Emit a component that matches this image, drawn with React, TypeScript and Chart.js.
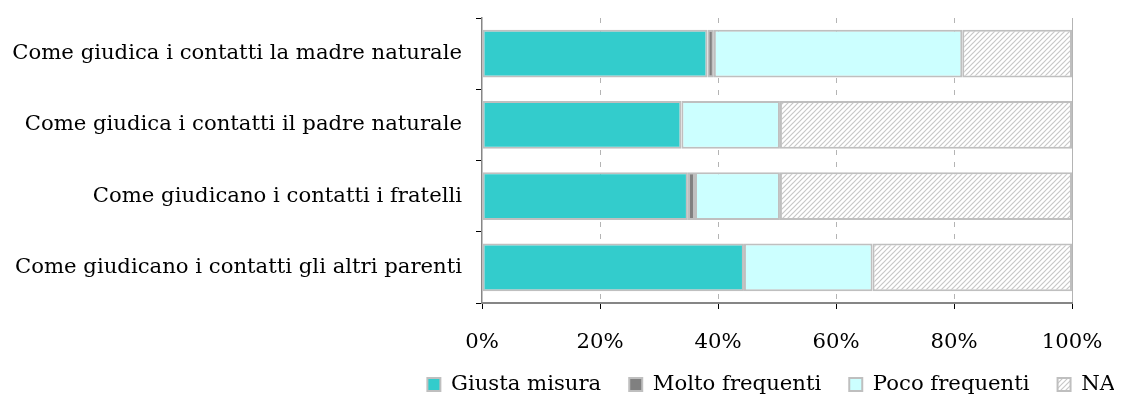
import React, { useEffect, useRef } from "react";
import { Chart, registerables } from "chart.js";

Chart.register(...registerables);

const categories = [
  "Come giudica i contatti la madre naturale",
  "Come giudica i contatti il padre naturale",
  "Come giudicano i contatti i fratelli",
  "Come giudicano i contatti gli altri parenti",
];
const giustaMisura = [38.2, 33.8, 34.9, 44.4];
const moltoFrequenti = [1.1, 0, 1.2, 0];
const pocoFrequenti = [42.1, 16.7, 14.4, 21.8];
const na = [18.6, 49.5, 49.5, 33.8];
const xTicks = [0, 20, 40, 60, 80, 100];

function makeHatch(): CanvasPattern | string {
  const c = document.createElement("canvas");
  c.width = 5;
  c.height = 5;
  const g = c.getContext("2d");
  if (!g) return "#eeeeee";
  g.fillStyle = "#ffffff";
  g.fillRect(0, 0, 5, 5);
  g.strokeStyle = "#c8c8c8";
  g.lineWidth = 1.2;
  g.beginPath();
  g.moveTo(-1, 6);
  g.lineTo(6, -1);
  g.moveTo(-1, 1);
  g.lineTo(1, -1);
  g.moveTo(4, 6);
  g.lineTo(6, 4);
  g.stroke();
  const p = g.createPattern(c, "repeat");
  return p || "#eeeeee";
}

const legendTweak = {
  id: "legendTweak",
  beforeLayout(chart: any) {
    const lg = chart.legend;
    if (lg && !lg._patched) {
      const orig = lg.fit.bind(lg);
      lg.fit = function () {
        orig();
        this.height = 44;
      };
      lg._patched = true;
    }
  },
  beforeDraw(chart: any) {
    const lg = chart.legend;
    if (!lg) return;
    lg.right = chart.width + 29.5;
    if (lg.lineWidths && lg.lineWidths.length && !lg._lwFixed) {
      lg.lineWidths[0] += 0.5;
      lg._lwFixed = true;
    }
    lg.top = 338;
  },
};

export default function App() {
  const ref = useRef<HTMLCanvasElement>(null);
  useEffect(() => {
    if (!ref.current) return;
    const hatch = makeHatch();
    const border = "#bfbfbf";
    const font = { family: "'DejaVu Serif'", size: 21.2 };
    const chart = new Chart(ref.current, {
      type: "bar",
      data: {
        labels: categories,
        datasets: [
          { label: "Giusta misura", data: giustaMisura, backgroundColor: "#33cccc" },
          { label: "Molto frequenti", data: moltoFrequenti, backgroundColor: "#808080" },
          { label: "Poco frequenti", data: pocoFrequenti, backgroundColor: "#ccffff" },
          { label: "NA", data: na, backgroundColor: hatch as any },
        ].map((d) => ({
          ...d,
          borderColor: border,
          borderWidth: 2,
          borderSkipped: false,
          barPercentage: 0.67,
          categoryPercentage: 1,
        })),
      },
      plugins: [legendTweak],
      options: {
        indexAxis: "y",
        animation: false,
        responsive: true,
        maintainAspectRatio: false,
        layout: { padding: { top: 10, right: 42, left: 0, bottom: 0 } },
        plugins: {
          tooltip: { enabled: false },
          legend: {
            position: "bottom",
            align: "end",
            labels: {
              font,
              color: "#000",
              boxWidth: 13,
              boxHeight: 13,
              padding: 28,
            },
          },
        },
        scales: {
          x: {
            stacked: true,
            min: 0,
            max: 100,
            afterBuildTicks: (scale: any) => {
              scale.ticks = xTicks.map((v) => ({ value: v }));
            },
            afterFit: (scale: any) => {
              scale.paddingLeft = 0;
              scale.paddingRight = 0;
              scale.height = 48;
            },
            ticks: {
              font,
              color: "#000",
              padding: 21,
              callback: (v: any) => v + "%",
            },
            grid: {
              color: (ctx: any) =>
                ctx.tick && ctx.tick.value === 0 ? "rgba(0,0,0,0)" : "#b4b4b4",
              tickBorderDash: [],
              tickColor: "#000",
              tickLength: 6,
              lineWidth: 1,
            },
            border: {
              color: "#868686",
              width: 2,
              dash: (ctx: any) =>
                ctx.tick && ctx.tick.value === 100 ? [] : [5, 7],
            },
          },
          y: {
            stacked: true,
            afterFit: (scale: any) => {
              scale.paddingTop = 0;
              scale.paddingBottom = 0;
              scale.width = 474;
            },
            ticks: { font, color: "#000", padding: 14 },
            grid: {
              drawOnChartArea: false,
              offset: true,
              tickLength: 6,
              tickColor: "#000",
            },
            border: { color: "#868686", width: 1.5 },
          },
        },
      },
    } as any);
    return () => chart.destroy();
  }, []);
  return (
    <div style={{ width: 1106, height: 387, position: "relative" }}>
      <canvas ref={ref} />
    </div>
  );
}
